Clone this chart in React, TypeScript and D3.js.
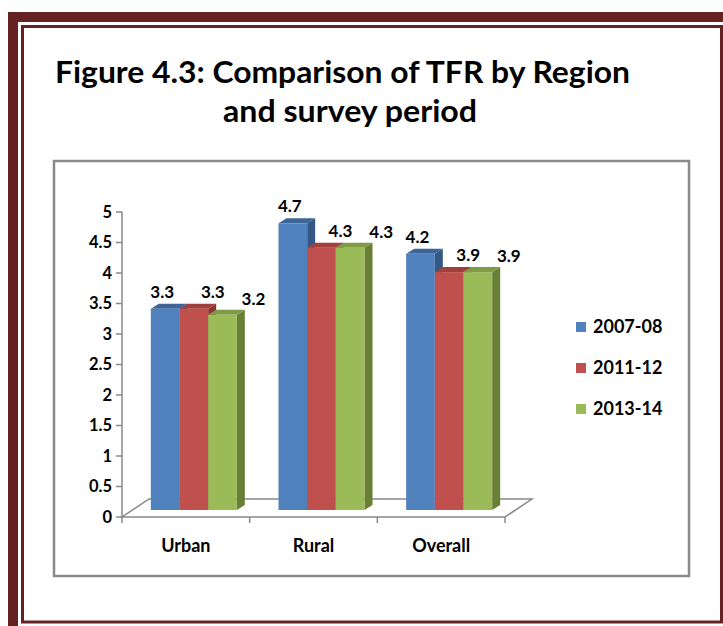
import React from "react";
import * as d3 from "d3";

const categories = ["Urban", "Rural", "Overall"];
const seriesNames = ["2007-08", "2011-12", "2013-14"];
const values2007 = [3.3, 4.7, 4.2];
const values2011 = [3.3, 4.3, 3.9];
const values2013 = [3.2, 4.3, 3.9];
const yTickValues = [0, 0.5, 1, 1.5, 2, 2.5, 3, 3.5, 4, 4.5, 5];
const titleLine1 = "Figure 4.3: Comparison of TFR by Region";
const titleLine2 = "and survey period";

const seriesValues = [values2007, values2011, values2013];
const frontColors = ["#4F81BD", "#C0504D", "#9BBB59"];
const topColors = ["#3C6496", "#A03F3C", "#7F9B45"];
const sideColors = ["#345784", "#8A3533", "#687F35"];
const labelOffsets = [
  { dx: -3, dy: -11 },
  { dx: 19, dy: -11 },
  { dx: 31, dy: -10 },
];

const FONT = "Lato, 'Open Sans', sans-serif";
const MAROON = "#642223";

export default function App() {
  const floorFront = 517;
  const depthX = 27;
  const depthY = -18;
  const x = d3.scaleBand<string>().domain(categories).range([122, 505]);
  const y = d3.scaleLinear().domain([0, 5]).range([517, 212]);
  const bw = x.bandwidth();
  const groupW = 86;
  const inner = d3.scaleBand<string>().domain(seriesNames).range([0, groupW]);
  const w = inner.bandwidth();
  const shiftX = 8;
  const shiftY = -7;
  const ddx = 8;
  const ddy = -5;
  const axisColor = "#888888";

  const bars: any[] = [];
  categories.forEach((cat, ci) => {
    seriesNames.forEach((s, si) => {
      const v = seriesValues[si][ci];
      const x0 = (x(cat) as number) + (bw - groupW) / 2 + shiftX + (inner(s) as number);
      const yTop = y(v) + shiftY;
      const yBot = y(0) + shiftY;
      bars.push({ key: cat + s, x0, yTop, yBot, si, v });
    });
  });

  const xEnd = x.range()[1];
  const xStart = x.range()[0];

  return (
    <svg
      width={723}
      height={626}
      style={{ position: "absolute", left: 0, top: 0, background: "#fff" }}
    >
      <rect x={0} y={0} width={723} height={626} fill="#fff" />
      {/* frame */}
      <rect x={13} y={17} width={800} height={700} fill="none" stroke={MAROON} strokeWidth={10} />
      <rect x={22.5} y={26.5} width={699} height={595.5} fill="none" stroke={MAROON} strokeWidth={3} />

      {/* title */}
      <text
        x={55}
        y={83}
        fontFamily={FONT}
        fontWeight={700}
        fontSize={30}
        textLength={575}
        lengthAdjust="spacingAndGlyphs"
        fill="#000"
      >
        {titleLine1}
      </text>
      <text
        x={223}
        y={122}
        fontFamily={FONT}
        fontWeight={700}
        fontSize={30}
        textLength={254}
        lengthAdjust="spacingAndGlyphs"
        fill="#000"
      >
        {titleLine2}
      </text>

      {/* chart box */}
      <rect x={54} y={161} width={635} height={415} fill="#fff" stroke="#8A8A8A" strokeWidth={2.5} />

      {/* floor */}
      <polygon
        points={`${xStart},${floorFront} ${xEnd},${floorFront} ${xEnd + depthX},${floorFront + depthY} ${xStart + depthX},${floorFront + depthY}`}
        fill="none"
        stroke={axisColor}
        strokeWidth={1.5}
      />
      {/* category ticks */}
      {[...categories.map((c) => x(c) as number), xEnd].map((tx, i) => (
        <line key={i} x1={tx} x2={tx} y1={floorFront} y2={floorFront + 6} stroke={axisColor} strokeWidth={1.5} />
      ))}
      {/* y axis */}
      <line x1={xStart} x2={xStart} y1={y(5)} y2={y(0)} stroke={axisColor} strokeWidth={1.5} />
      {yTickValues.map((t) => (
        <g key={t}>
          <line x1={xStart - 6} x2={xStart} y1={y(t)} y2={y(t)} stroke={axisColor} strokeWidth={1.5} />
          <text
            x={112}
            y={y(t)}
            dy="0.36em"
            textAnchor="end"
            fontFamily={FONT}
            fontWeight={700}
            fontSize={16.5}
            fill="#000"
          >
            {d3.format("")(t)}
          </text>
        </g>
      ))}

      {/* bars */}
      {bars.map((b) => (
        <g key={b.key}>
          <polygon
            points={`${b.x0 + w},${b.yTop} ${b.x0 + w + ddx},${b.yTop + ddy} ${b.x0 + w + ddx},${b.yBot + ddy} ${b.x0 + w},${b.yBot}`}
            fill={sideColors[b.si]}
          />
          <polygon
            points={`${b.x0},${b.yTop} ${b.x0 + w},${b.yTop} ${b.x0 + w + ddx},${b.yTop + ddy} ${b.x0 + ddx},${b.yTop + ddy}`}
            fill={topColors[b.si]}
          />
          <rect x={b.x0} y={b.yTop} width={w} height={b.yBot - b.yTop} fill={frontColors[b.si]} />
        </g>
      ))}

      {/* data labels */}
      {bars.map((b) => (
        <text
          key={"l" + b.key}
          x={b.x0 + w / 2 + labelOffsets[b.si].dx}
          y={b.yTop + labelOffsets[b.si].dy}
          textAnchor="middle"
          fontFamily={FONT}
          fontWeight={700}
          fontSize={17}
          fill="#000"
        >
          {d3.format(".1f")(b.v)}
        </text>
      ))}

      {/* x labels */}
      {categories.map((c) => (
        <text
          key={c}
          x={(x(c) as number) + bw / 2}
          y={552}
          textAnchor="middle"
          fontFamily={FONT}
          fontWeight={700}
          fontSize={18}
          fill="#000"
        >
          {c}
        </text>
      ))}

      {/* legend */}
      {seriesNames.map((s, i) => {
        const ly = 327 + i * 41;
        return (
          <g key={s}>
            <rect x={576} y={ly - 5} width={10} height={10} fill={frontColors[i]} />
            <text
              x={593}
              y={ly}
              dy="0.36em"
              fontFamily={FONT}
              fontWeight={700}
              fontSize={18}
              fill="#000"
            >
              {s}
            </text>
          </g>
        );
      })}
    </svg>
  );
}
